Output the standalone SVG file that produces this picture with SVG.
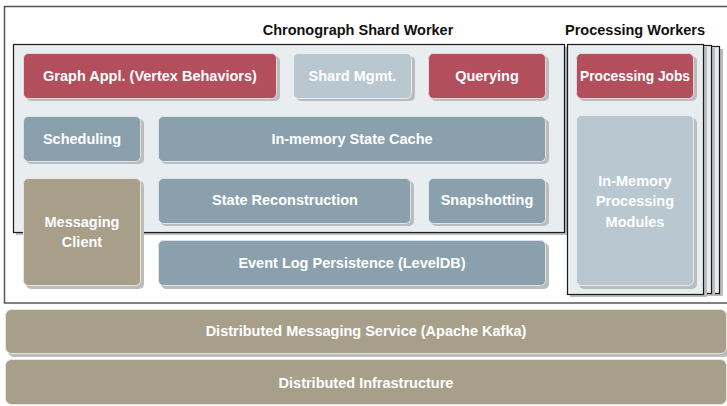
<svg xmlns="http://www.w3.org/2000/svg" width="727" height="406" viewBox="0 0 727 406">
<defs>
<style>
.t{font-family:"Liberation Sans",Arial,sans-serif;font-weight:bold;font-size:14.5px;text-anchor:middle}
.w{fill:#ffffff}
.k{fill:#111111}
.sh{fill:#bcbcbc}
.red{fill:#b34f5d;stroke:#e9d6d9;stroke-width:1}
.lt{fill:#b9c7d0;stroke:#e6ecef;stroke-width:1}
.bl{fill:#8aa1ad;stroke:#dde4e8;stroke-width:1}
.tan{fill:#a79f8a;stroke:#e8e5dd;stroke-width:1}
.frame{fill:#e8edf0;stroke:#1a1a1a;stroke-width:1.2}
</style>
</defs>
<rect width="727" height="406" fill="#ffffff"/>
<g id="outer-frame">
<rect x="4.5" y="6.5" width="740" height="296.5" fill="#ffffff" stroke="#555555" stroke-width="1.5"/>
</g>
<g id="titles">
<text class="t k" x="358" y="35">Chronograph Shard Worker</text>
<text class="t k" x="635" y="35">Processing Workers</text>
</g>
<g id="shard-worker">
<rect x="16" y="47" width="551" height="188" class="sh"/>
<rect x="13.5" y="44.5" width="551" height="188" class="frame"/>
</g>
<g id="processing-workers">
<rect x="586" y="49" width="137" height="247" class="sh"/>
<rect x="583.5" y="46.5" width="136" height="247" class="frame"/>
<rect x="578" y="48" width="137" height="247" class="sh"/>
<rect x="575.5" y="45.5" width="136" height="248" class="frame"/>
<rect x="570" y="47" width="137" height="250" class="sh"/>
<rect x="567.5" y="44.5" width="136" height="250" class="frame"/>
</g>
<g id="graph-appl">
<rect x="26" y="56" width="254" height="45" rx="5" class="sh"/>
<rect x="23.5" y="53.5" width="253" height="45" rx="5" class="red"/>
<text class="t w" x="150" y="81">Graph Appl. (Vertex Behaviors)</text>
</g>
<g id="shard-mgmt">
<rect x="296" y="56" width="119" height="45" rx="5" class="sh"/>
<rect x="293.5" y="53.5" width="118" height="45" rx="5" class="lt"/>
<text class="t w" x="352.5" y="81">Shard Mgmt.</text>
</g>
<g id="querying">
<rect x="431" y="56" width="118" height="45" rx="5" class="sh"/>
<rect x="428.5" y="53.5" width="117" height="45" rx="5" class="red"/>
<text class="t w" x="487" y="81">Querying</text>
</g>
<g id="processing-jobs">
<rect x="579" y="56" width="118" height="45" rx="5" class="sh"/>
<rect x="576.5" y="53.5" width="117" height="45" rx="5" class="red"/>
<text class="t w" x="635" y="81" textLength="110" lengthAdjust="spacingAndGlyphs">Processing Jobs</text>
</g>
<g id="scheduling">
<rect x="26" y="119" width="118" height="45" rx="5" class="sh"/>
<rect x="23.5" y="116.5" width="117" height="45" rx="5" class="bl"/>
<text class="t w" x="82" y="144">Scheduling</text>
</g>
<g id="state-cache">
<rect x="161" y="119" width="388" height="45" rx="5" class="sh"/>
<rect x="158.5" y="116.5" width="387" height="45" rx="5" class="bl"/>
<text class="t w" x="352" y="144">In-memory State Cache</text>
</g>
<g id="messaging-client">
<rect x="26" y="181" width="118" height="108" rx="5" class="sh"/>
<rect x="23.5" y="178.5" width="117" height="107" rx="5" class="tan"/>
<text class="t w" x="82" y="227">Messaging</text>
<text class="t w" x="82" y="247">Client</text>
</g>
<g id="state-reconstruction">
<rect x="161" y="181" width="253" height="45" rx="5" class="sh"/>
<rect x="158.5" y="178.5" width="252" height="45" rx="5" class="bl"/>
<text class="t w" x="285" y="205">State Reconstruction</text>
</g>
<g id="snapshotting">
<rect x="431" y="181" width="118" height="45" rx="5" class="sh"/>
<rect x="428.5" y="178.5" width="117" height="45" rx="5" class="bl"/>
<text class="t w" x="487" y="205">Snapshotting</text>
</g>
<g id="event-log">
<rect x="161" y="243" width="388" height="46" rx="5" class="sh"/>
<rect x="158.5" y="240.5" width="387" height="45" rx="5" class="bl"/>
<text class="t w" x="352" y="268">Event Log Persistence (LevelDB)</text>
</g>
<g id="in-memory-modules">
<rect x="579" y="118" width="118" height="171" rx="5" class="sh"/>
<rect x="576.5" y="115.5" width="117" height="170" rx="5" class="lt"/>
<text class="t w" x="635" y="186">In-Memory</text>
<text class="t w" x="635" y="206">Processing</text>
<text class="t w" x="635" y="227">Modules</text>
</g>
<g id="messaging-service">
<rect x="8" y="312" width="722" height="45" rx="6" class="sh"/>
<rect x="5.5" y="309.5" width="721" height="44" rx="6" class="tan"/>
<text class="t w" x="366" y="336">Distributed Messaging Service (Apache Kafka)</text>
</g>
<g id="infrastructure">
<rect x="5.5" y="359.5" width="721" height="45" rx="6" class="tan"/>
<text class="t w" x="366" y="388">Distributed Infrastructure</text>
</g>
<g id="connectors"></g>
</svg>
